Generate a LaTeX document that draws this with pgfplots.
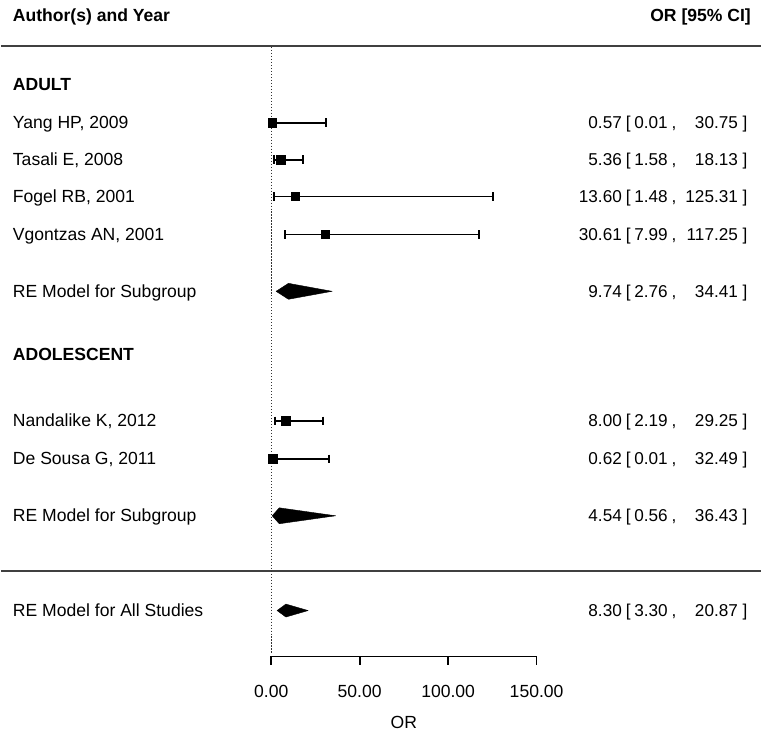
\documentclass[border=0pt]{standalone}
\usepackage{fontspec}
\setmainfont{Liberation Sans}
\usepackage{pgfplots}
\usepackage{pgfplotstable}
\pgfplotsset{compat=1.18}

% study-level estimates: est, lower, upper, row position, marker half-size
\pgfplotstableread{
est   lo    hi      y    ms
0.57  0.01  30.75   123  4.4
5.36  1.58  18.13   160  4.2
13.60 1.48  125.31  197  3.9
30.61 7.99  117.25  235  3.9
8.00  2.19  29.25   422  4.5
0.62  0.01  32.49   460  4.4
}\studies

\tikzset{lbl/.style={font=\fontsize{17.6}{20}\selectfont, inner sep=0pt},
  rlbl/.style={font=\fontsize{17.2}{20}\selectfont, inner sep=0pt},
  ci/.style={black, line width=1.8pt, mark=|, mark size=4.3pt, mark options={line width=1.8pt}}}

\begin{document}
\begin{tikzpicture}
\begin{axis}[
  scale only axis, width=762pt, height=735pt,
  xmin=-152.8, xmax=276.9, ymin=0, ymax=735, y dir=reverse,
  hide axis, clip=false,
]
% bounding box
\path (rel axis cs:0,0) rectangle (rel axis cs:1,1);

% horizontal rules
\draw[line width=1.8pt, black!75] (axis cs:-152.8,46) -- (axis cs:276.9,46);
\draw[line width=1.8pt, black!75] (axis cs:-152.8,572) -- (axis cs:276.9,572);

% reference line at 0
\draw[line width=1pt, black!80, dash pattern=on 1.2pt off 1.8pt] (axis cs:0,47) -- (axis cs:0,655);

% confidence intervals
\addplot[ci] coordinates {(0.01,123) (30.75,123)};
\addplot[ci] coordinates {(1.58,160) (18.13,160)};
\addplot[ci] coordinates {(1.48,197) (125.31,197)};
\addplot[ci] coordinates {(7.99,235) (117.25,235)};
\addplot[ci] coordinates {(2.19,422) (29.25,422)};
\addplot[ci] coordinates {(0.01,460) (32.49,460)};

% study squares
\addplot[scatter, only marks, mark=square*,
  scatter/use mapped color={draw=black, fill=black},
  visualization depends on={\thisrow{ms} \as \ms},
  scatter/@pre marker code/.append style={/tikz/mark size=\ms pt}]
  table[x=est, y=y] {\studies};

% summary diamonds
\addplot[fill=black, draw=black, line join=round] coordinates {(2.76,292) (9.74,284) (34.41,292) (9.74,300)} -- cycle;
\addplot[fill=black, draw=black, line join=round] coordinates {(0.56,517) (4.54,509) (36.43,517) (4.54,525)} -- cycle;
\addplot[fill=black, draw=black, line join=round] coordinates {(3.30,612) (8.30,605.5) (20.87,612) (8.30,618.5)} -- cycle;

% x axis
\draw[line width=1.8pt] (axis cs:0,658) -- (axis cs:150,658);
\foreach \t/\l in {0/0.00,50/50.00,100/100.00,150/150.00}{
  \edef\tmp{\noexpand\draw[line width=1.8pt] (axis cs:\t,658) -- (axis cs:\t,667);}\tmp
  \edef\tmp{\noexpand\node[lbl,anchor=base] at (axis cs:\t,699) {\l};}\tmp
}
\node[lbl,anchor=base] at (axis cs:75,730) {OR};

% headers
\node[lbl,anchor=base west] at (axis cs:-146.1,22) {\bfseries Author(s) and Year};
\node[lbl,anchor=base east] at (axis cs:271.2,22) {\bfseries OR [95\% CI]};

% left labels
\node[lbl,anchor=base west] at (axis cs:-146.1,91) {\bfseries ADULT};
\node[lbl,anchor=base west] at (axis cs:-146.1,129) {Yang HP, 2009};
\node[lbl,anchor=base west] at (axis cs:-146.1,166) {Tasali E, 2008};
\node[lbl,anchor=base west] at (axis cs:-146.1,203) {Fogel RB, 2001};
\node[lbl,anchor=base west] at (axis cs:-146.1,241) {Vgontzas AN, 2001};
\node[lbl,anchor=base west] at (axis cs:-146.1,298) {RE Model for Subgroup};
\node[lbl,anchor=base west] at (axis cs:-146.1,361) {\bfseries ADOLESCENT};
\node[lbl,anchor=base west] at (axis cs:-146.1,428) {Nandalike K, 2012};
\node[lbl,anchor=base west] at (axis cs:-146.1,466) {De Sousa G, 2011};
\node[lbl,anchor=base west] at (axis cs:-146.1,523) {RE Model for Subgroup};
\node[lbl,anchor=base west] at (axis cs:-146.1,618) {RE Model for All Studies};

% right annotations
\foreach \yy/\e/\lo/\hi in {129/0.57/0.01/30.75, 166/5.36/1.58/18.13, 203/13.60/1.48/125.31, 241/30.61/7.99/117.25, 298/9.74/2.76/34.41, 428/8.00/2.19/29.25, 466/0.62/0.01/32.49, 523/4.54/0.56/36.43, 618/8.30/3.30/20.87}{
  \edef\tmp{\noexpand\node[rlbl,anchor=base east] at (axis cs:198.3,\yy) {\e};}\tmp
  \edef\tmp{\noexpand\node[rlbl,anchor=base west] at (axis cs:200.3,\yy) {[\noexpand\hspace{0.22em}\lo\noexpand\hspace{0.22em},};}\tmp
  \edef\tmp{\noexpand\node[rlbl,anchor=base east] at (axis cs:269.3,\yy) {\hi\noexpand\ ]};}\tmp
}
\end{axis}
\end{tikzpicture}
\end{document}
